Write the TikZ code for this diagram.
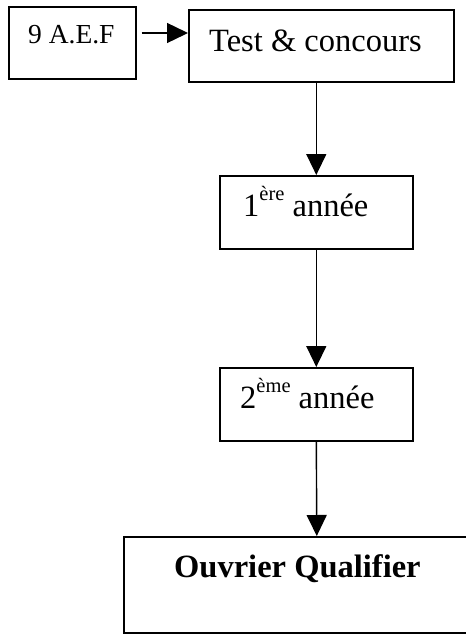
\documentclass[tikz,border=0pt]{standalone}
\usepackage{fontspec}
\setmainfont{Liberation Serif}
\usetikzlibrary{arrows.meta}
\begin{document}
\begin{tikzpicture}[x=1pt,y=-1pt,
 box/.style={draw,line width=1.6pt,inner sep=0pt,anchor=north west},
 txt/.style={anchor=base west,inner sep=0pt},
 big/.style={font=\fontsize{32.5}{32.5}\selectfont},
 arr/.style={line width=1.4pt,-{Triangle[length=21pt,width=20pt]}}]
\useasboundingbox (0,0) rectangle (466,635);
\clip (0,0) rectangle (466,635);
% boxes
\node[box,minimum width=127pt,minimum height=72pt] (b1) at (8,6) {};
\node[box,minimum width=265pt,minimum height=72pt] (b2) at (188,9) {};
\node[box,minimum width=193pt,minimum height=73pt] (b3) at (219,175) {};
\node[box,minimum width=193pt,minimum height=73pt] (b4) at (219,367) {};
\node[box,minimum width=386pt,minimum height=96pt] (b5) at (123,536) {};
% texts
\node[txt,font=\fontsize{27.5}{27.5}\selectfont] (t1) at (28,43) {9 A.E.F};
\node[txt,big] (t2) at (209,51) {Test \& concours};
\node[txt,big] (t3) at (243,216) {1\raisebox{16pt}{\fontsize{20.5}{20.5}\selectfont ère} année};
\node[txt,big] (t4) at (240,408) {2\raisebox{16pt}{\fontsize{20.5}{20.5}\selectfont ème} année};
\node[txt,big] (t5) at (174,577) {\bfseries Ouvrier Qualifier};
% connectors
\coordinate (h) at (0,33);
\draw[arr,shorten <=5pt] (b1.east |- h) -- (b2.west |- h);
\draw[arr] (b2.south -| b3.north) -- (b3.north);
\draw[arr] (b3.south) -- (b4.north);
\draw[arr] (b4.south) -- (b5.north);
\end{tikzpicture}
\end{document}
